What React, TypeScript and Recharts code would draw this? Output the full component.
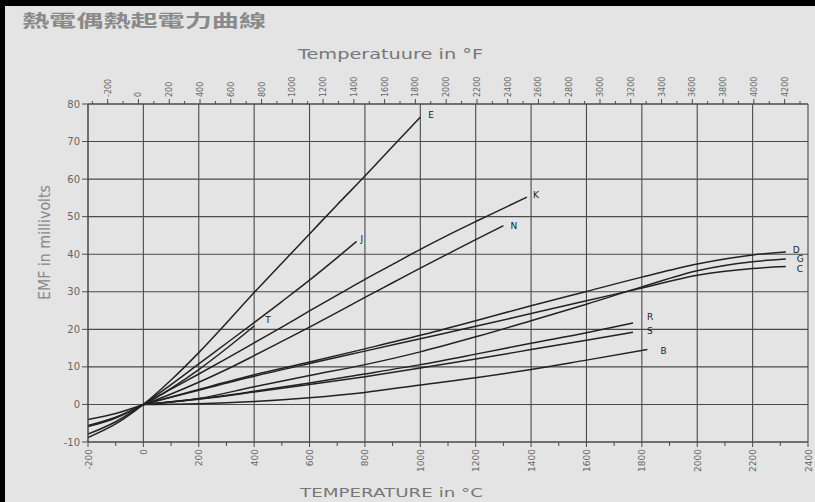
import React from 'react';
import { LineChart, Line, XAxis, YAxis, ReferenceLine } from 'recharts';

// ---- axis ticks ----
const TEMP_C_TICKS = [-200, -100, 0, 100, 200, 300, 400, 500, 600, 700, 800, 900, 1000, 1100, 1200, 1300, 1400, 1500, 1600, 1700, 1800, 1900, 2000, 2100, 2200, 2300, 2400];
const TEMP_C_GRID = [-200, 0, 200, 400, 600, 800, 1000, 1200, 1400, 1600, 1800, 2000, 2200, 2400];
const TEMP_F_TICKS = [-300, -200, -100, 0, 100, 200, 300, 400, 500, 600, 700, 800, 900, 1000, 1100, 1200, 1300, 1400, 1500, 1600, 1700, 1800, 1900, 2000, 2100, 2200, 2300, 2400, 2500, 2600, 2700, 2800, 2900, 3000, 3100, 3200, 3300, 3400, 3500, 3600, 3700, 3800, 3900, 4000, 4100, 4200, 4300];
const EMF_TICKS = [-10, 0, 10, 20, 30, 40, 50, 60, 70, 80];

// ---- thermocouple curves: [temperature °C, EMF mV] ----
const TYPE_E: [number, number][] = [[-200, -8.8], [-100, -5.2], [0, 0], [100, 6.5], [200, 13.8], [300, 21.7], [400, 29.8], [500, 37.6], [600, 45.4], [700, 53.2], [800, 60.8], [900, 68.7], [1000, 76.5]];
const TYPE_J: [number, number][] = [[-200, -7.9], [-100, -4.6], [0, 0], [100, 5.3], [200, 10.8], [300, 16.3], [400, 21.8], [500, 27.4], [600, 33.1], [700, 39.1], [770, 43.4]];
const TYPE_T: [number, number][] = [[-200, -5.6], [-100, -3.4], [0, 0], [100, 4.3], [200, 9.3], [300, 14.9], [400, 20.9]];
const TYPE_K: [number, number][] = [[-200, -5.9], [-100, -3.6], [0, 0], [100, 4.1], [200, 8.1], [300, 12.2], [400, 16.4], [500, 20.6], [600, 24.9], [700, 29.1], [800, 33.3], [900, 37.3], [1000, 41.3], [1100, 45.1], [1200, 48.7], [1300, 52.2], [1385, 55.2]];
const TYPE_N: [number, number][] = [[-200, -4.0], [-100, -2.4], [0, 0], [100, 2.8], [200, 5.9], [300, 9.3], [400, 13.0], [500, 16.8], [600, 20.6], [700, 24.5], [800, 28.5], [900, 32.4], [1000, 36.3], [1100, 40.1], [1200, 43.9], [1300, 47.6]];
const TYPE_D: [number, number][] = [[0, 0], [200, 4.0], [400, 7.9], [600, 11.3], [800, 14.8], [1000, 18.4], [1200, 22.3], [1400, 26.3], [1600, 30.1], [1800, 33.9], [2000, 37.4], [2200, 39.8], [2320, 40.6]];
const TYPE_G: [number, number][] = [[0, 0], [200, 1.6], [400, 4.7], [600, 7.7], [800, 10.6], [1000, 14.0], [1200, 18.0], [1400, 22.3], [1600, 26.7], [1800, 31.3], [2000, 35.6], [2200, 38.0], [2320, 38.7]];
const TYPE_C: [number, number][] = [[0, 0], [200, 3.8], [400, 7.5], [600, 10.9], [800, 14.2], [1000, 17.5], [1200, 20.8], [1400, 24.2], [1600, 27.6], [1800, 31.0], [2000, 34.4], [2200, 36.2], [2320, 36.7]];
const TYPE_R: [number, number][] = [[0, 0], [200, 1.5], [400, 3.5], [600, 5.7], [800, 8.1], [1000, 10.6], [1200, 13.4], [1400, 16.3], [1600, 19.1], [1768, 21.7]];
const TYPE_S: [number, number][] = [[0, 0], [200, 1.4], [400, 3.3], [600, 5.3], [800, 7.4], [1000, 9.7], [1200, 12.1], [1400, 14.6], [1600, 17.1], [1768, 19.2]];
const TYPE_B: [number, number][] = [[0, 0], [200, 0.2], [400, 0.8], [600, 1.8], [800, 3.2], [1000, 5.2], [1200, 7.1], [1400, 9.3], [1600, 11.8], [1820, 14.6]];

const SERIES_NAMES = ['E', 'J', 'T', 'K', 'N', 'D', 'G', 'C', 'R', 'S', 'B'];
const SERIES_DATA = [TYPE_E, TYPE_J, TYPE_T, TYPE_K, TYPE_N, TYPE_D, TYPE_G, TYPE_C, TYPE_R, TYPE_S, TYPE_B];

// label offsets (style only)
const LABEL_OFFSETS: Record<string, [number, number]> = {
  E: [8, 1], J: [4, 1], T: [11, -3], K: [6, 1], N: [7, 3],
  D: [7, 1], G: [11, 3], C: [11, 5], R: [14, -3], S: [14, 2], B: [13, 4],
};

const INK = '#222222';
const GRID = '#4a4a4a';
const TXT = '#666666';
const FONT = '"DejaVu Sans", "Liberation Sans", sans-serif';

const BottomTick = (props: any) => {
  const { x, y, payload } = props;
  const v = payload.value;
  const major = v % 200 === 0;
  return (
    <g>
      <line x1={x} y1={y} x2={x} y2={y + (major ? 5 : 4)} stroke={GRID} strokeWidth={1} />
      {major && (
        <text transform={`translate(${x + 3.5},${y + 7}) rotate(-90)`} textAnchor="end" fontSize={9} fill={TXT} fontFamily={FONT}>
          {v}
        </text>
      )}
    </g>
  );
};

const TopTick = (props: any) => {
  const { x, y, payload } = props;
  const v = payload.value;
  const major = v % 200 === 0;
  return (
    <g>
      <line x1={x} y1={y} x2={x} y2={y - (major ? 5 : 3)} stroke={GRID} strokeWidth={1} />
      {major && (
        <text transform={`translate(${x + 3},${y - 7}) rotate(-90)`} textAnchor="start" fontSize={8} fill={TXT} fontFamily={FONT}>
          {v}
        </text>
      )}
    </g>
  );
};

const makeEndLabel = (name: string, count: number) => (props: any) => {
  const { x, y, index } = props;
  if (index !== count - 1) return <g key={`${name}-${index}`} />;
  const [dx, dy] = LABEL_OFFSETS[name] || [6, 3];
  return (
    <text key={`${name}-lbl`} x={x + dx} y={y + dy} fontSize={9} fill={INK} stroke="none" fontFamily={FONT}>
      {name}
    </text>
  );
};

export default function App() {
  const series = SERIES_NAMES.map((name, i) => ({
    name,
    data: SERIES_DATA[i].map(([t, v]) => ({ t, v })),
  }));
  // carrier for the °F axis (no values drawn)
  const fahrenheitCarrier = TEMP_F_TICKS.map((f) => ({ f, v: null as number | null }));
  return (
    <div style={{ position: 'absolute', left: 0, top: 0, width: 815, height: 502, background: '#e4e4e4', overflow: 'hidden' }}>
      <LineChart width={815} height={502} margin={{ top: 54, right: 7, bottom: 25, left: 48 }}>
        <XAxis
          xAxisId="c"
          dataKey="t"
          type="number"
          domain={[-200, 2400]}
          ticks={TEMP_C_TICKS}
          interval={0}
          orientation="bottom"
          height={35}
          tickSize={0}
          tickMargin={0}
          tick={<BottomTick />}
          axisLine={{ stroke: GRID }}
          allowDataOverflow
        />
        <XAxis
          xAxisId="f"
          dataKey="f"
          type="number"
          domain={[-328, 4352]}
          ticks={TEMP_F_TICKS}
          interval={0}
          orientation="top"
          height={50}
          tickSize={0}
          tickMargin={0}
          tick={<TopTick />}
          axisLine={{ stroke: GRID }}
          allowDataOverflow
        />
        <YAxis
          yAxisId="e"
          type="number"
          domain={[-10, 80]}
          ticks={EMF_TICKS}
          interval={0}
          width={40}
          tickSize={6}
          tickMargin={2}
          tick={{ fontSize: 10, fill: TXT, fontFamily: FONT }}
          tickLine={{ stroke: GRID }}
          axisLine={{ stroke: GRID }}
          allowDataOverflow
        />
        {TEMP_C_GRID.map((t) => (
          <ReferenceLine key={`gx${t}`} xAxisId="c" yAxisId="e" x={t} stroke={GRID} strokeWidth={1.1} />
        ))}
        {EMF_TICKS.map((v) => (
          <ReferenceLine key={`gy${v}`} xAxisId="c" yAxisId="e" y={v} stroke={GRID} strokeWidth={1.1} />
        ))}
        <Line
          xAxisId="f"
          yAxisId="e"
          data={fahrenheitCarrier}
          dataKey="v"
          stroke="none"
          dot={false}
          activeDot={false}
          isAnimationActive={false}
        />
        {series.map((s) => (
          <Line
            key={s.name}
            xAxisId="c"
            yAxisId="e"
            data={s.data}
            dataKey="v"
            type="monotone"
            stroke={INK}
            strokeWidth={1.5}
            dot={false}
            isAnimationActive={false}
            label={makeEndLabel(s.name, s.data.length)}
          />
        ))}
      </LineChart>
      <svg width={815} height={502} style={{ position: 'absolute', left: 0, top: 0, pointerEvents: 'none' }}>
        <rect x={0} y={0} width={815} height={6} fill="#000" />
        <rect x={0} y={0} width={5} height={502} fill="#000" />
        <text x={22} y={27} fontSize={17} fontWeight="bold" fill="#8a8a8a" fontFamily='"Noto Sans CJK TC", sans-serif' textLength={244} lengthAdjust="spacingAndGlyphs">
          熱電偶熱起電力曲線
        </text>
        <text x={298} y={59} fontSize={14} fill="#777" fontFamily={FONT} textLength={185} lengthAdjust="spacingAndGlyphs">
          Temperatuure in °F
        </text>
        <text x={300} y={497} fontSize={13} fill="#777" fontFamily={FONT} textLength={183} lengthAdjust="spacingAndGlyphs">
          TEMPERATURE in °C
        </text>
        <text transform="translate(50,300) rotate(-90)" fontSize={15} fill="#888" fontFamily={FONT} textLength={115} lengthAdjust="spacingAndGlyphs">
          EMF in millivolts
        </text>
      </svg>
    </div>
  );
}
